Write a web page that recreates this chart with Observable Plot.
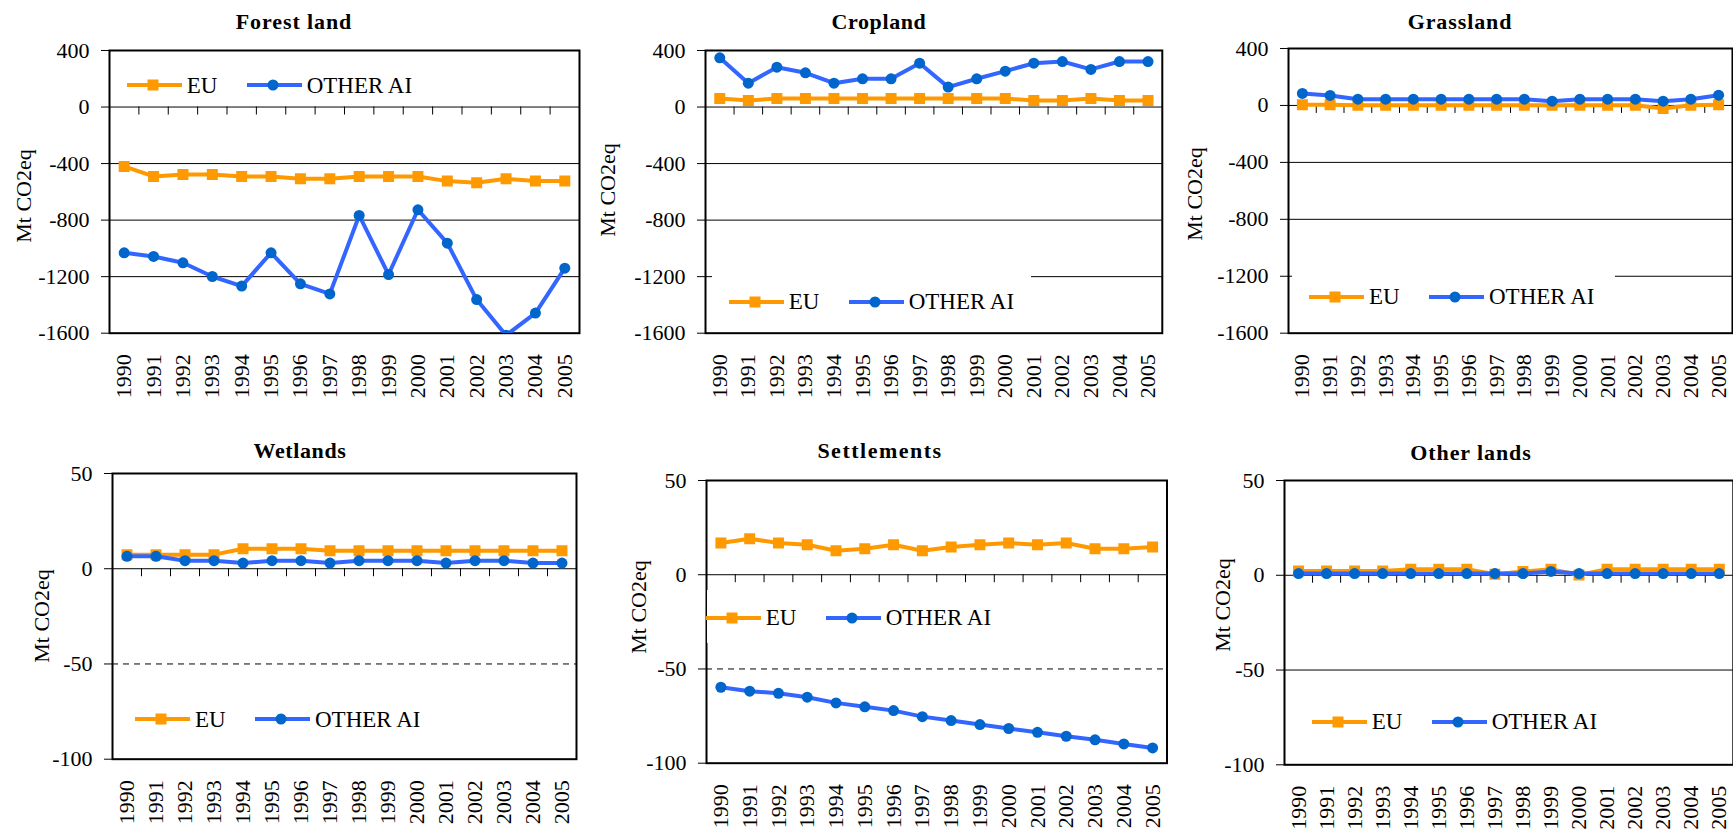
<!DOCTYPE html>
<html>
<head>
<meta charset="utf-8">
<script src="https://cdn.jsdelivr.net/npm/d3@7"></script>
<script src="https://cdn.jsdelivr.net/npm/@observablehq/plot@0.6"></script>
<style>
html, body { margin: 0; padding: 0; background: #fff; overflow: hidden; }
#root { position: relative; width: 1733px; height: 831px; overflow: hidden; background: #fff;
  font-family: "Liberation Serif", "Times New Roman", serif; color: #000; }
.title { position: absolute; font-weight: bold; font-size: 22px; line-height: 22px; white-space: nowrap; transform: translateX(-50%); }
.ylab { position: absolute; font-size: 22px; line-height: 22px; white-space: nowrap; transform: translate(-50%, -50%) rotate(-90deg); }
.legbox { position: absolute; background: #fff; }
.leg { position: absolute; display: flex; align-items: center; height: 30px; font-size: 23px; line-height: 23px; white-space: nowrap; }
.leg svg { display: block; flex: none; }
.leg span { display: block; }
</style>
</head>
<body>
<div id="root"></div>
<script>
// ---------------- data ----------------
const years = [1990, 1991, 1992, 1993, 1994, 1995, 1996, 1997, 1998, 1999, 2000, 2001, 2002, 2003, 2004, 2005];
const seriesNames = ["EU", "OTHER AI"];
const titles = ["Forest land", "Cropland", "Grassland", "Wetlands", "Settlements", "Other lands"];
const yLabel = "Mt CO2eq";

const forestEU = [-420, -491, -477, -477, -491, -491, -508, -508, -491, -491, -491, -524, -536, -508, -524, -524];
const forestOther = [-1031, -1057, -1102, -1199, -1267, -1031, -1251, -1322, -767, -1185, -727, -963, -1362, -1615, -1458, -1140];
const croplandEU = [60, 46, 60, 60, 60, 60, 60, 60, 60, 60, 60, 46, 46, 60, 46, 46];
const croplandOther = [348, 169, 282, 242, 169, 200, 200, 310, 141, 200, 254, 310, 322, 266, 322, 322];
const grasslandEU = [5, 5, 2, 2, 2, 2, 2, 2, 2, 2, 2, 2, 2, -22, 2, 5];
const grasslandOther = [84, 70, 44, 44, 44, 44, 44, 44, 44, 30, 44, 44, 44, 30, 44, 72];
const wetlandsEU = [7.4, 7.4, 7.4, 7.4, 10.5, 10.5, 10.5, 9.5, 9.5, 9.5, 9.5, 9.5, 9.5, 9.5, 9.5, 9.5];
const wetlandsOther = [6.5, 6.5, 4.2, 4.2, 3, 4.2, 4.2, 3, 4.2, 4.2, 4.2, 3, 4.2, 4.2, 3, 3];
const settlementsEU = [16.8, 19.1, 16.8, 15.9, 12.7, 13.8, 15.9, 12.7, 14.7, 15.9, 16.8, 15.9, 16.8, 13.8, 13.8, 14.7];
const settlementsOther = [-59.7, -61.8, -62.9, -65, -68, -70.1, -72.1, -75.3, -77.4, -79.5, -81.6, -83.6, -85.7, -87.6, -89.8, -91.9];
const otherEU = [2.3, 2.3, 2.3, 2.3, 3.2, 3.2, 3.2, 0.5, 2, 3.2, 0.2, 3.2, 3.2, 3.2, 3.2, 3.2];
const otherOther = [0.9, 0.9, 0.9, 0.9, 0.9, 0.9, 0.9, 0.9, 0.9, 2, 0.9, 0.9, 0.9, 0.9, 0.9, 0.9];

const topTicks = [-1600, -1200, -800, -400, 0, 400];
const bottomTicks = [-100, -50, 0, 50];
const topGrid = [-1200, -800, -400];
const bottomGrid = [-50];

// ---------------- styles ----------------
const euColor = "#FF9900";
const otherLine = "#3366FF";
const otherMarker = "#0066CC";
const FONT = '"Liberation Serif", "Times New Roman", serif';

// ---------------- layout ----------------
const panels = [
  {title: titles[0], eu: forestEU, other: forestOther, ticks: topTicks, grid: topGrid, dashed: false,
   frame: [109, 579, 50, 332.7], titleX: 294, titleBase: 29.3, titleLS: 0.9, ylab: [24, 196],
   leg: {x: 126.7, y: 85, box: [116, 64, 314, 41]}},
  {title: titles[1], eu: croplandEU, other: croplandOther, ticks: topTicks, grid: topGrid, dashed: false,
   frame: [705.2, 1162, 50, 332.7], titleX: 879, titleBase: 29.3, titleLS: 0.6, ylab: [608, 190],
   leg: {x: 728.7, y: 301.7, box: [712, 275, 319, 52]}},
  {title: titles[2], eu: grasslandEU, other: grasslandOther, ticks: topTicks, grid: topGrid, dashed: false,
   frame: [1288, 1732, 48, 332.7], titleX: 1460, titleBase: 29.3, titleLS: 0.9, ylab: [1195, 194],
   leg: {x: 1309, y: 296.7, box: [1292, 270, 323, 52]}},
  {title: titles[3], eu: wetlandsEU, other: wetlandsOther, ticks: bottomTicks, grid: bottomGrid, dashed: true,
   frame: [111.5, 575.5, 473.3, 759], titleX: 300, titleBase: 458.3, titleLS: 0.6, ylab: [42, 616],
   leg: {x: 135, y: 719, box: [122, 693, 316, 52]}},
  {title: titles[4], eu: settlementsEU, other: settlementsOther, ticks: bottomTicks, grid: bottomGrid, dashed: true,
   frame: [705.5, 1166, 480, 762.7], titleX: 880, titleBase: 458.3, titleLS: 1.5, ylab: [639, 607],
   leg: {x: 705.7, y: 617.7, box: [706.5, 590, 300, 53]}},
  {title: titles[5], eu: otherEU, other: otherOther, ticks: bottomTicks, grid: bottomGrid, dashed: false,
   frame: [1284, 1732.8, 480, 764.3], titleX: 1471, titleBase: 460, titleLS: 0.9, ylab: [1223, 605],
   leg: {x: 1311.7, y: 721.7, box: [1298, 695, 320, 52]}}
];

const root = document.getElementById("root");

function swatch(kind) {
  const ns = "http://www.w3.org/2000/svg";
  const svg = document.createElementNS(ns, "svg");
  svg.setAttribute("width", 55); svg.setAttribute("height", 16);
  const line = document.createElementNS(ns, "line");
  line.setAttribute("x1", 0); line.setAttribute("x2", 55); line.setAttribute("y1", 8); line.setAttribute("y2", 8);
  line.setAttribute("stroke", kind === 0 ? euColor : otherLine); line.setAttribute("stroke-width", 4);
  svg.appendChild(line);
  if (kind === 0) {
    const r = document.createElementNS(ns, "rect");
    r.setAttribute("x", 26 - 5.5); r.setAttribute("y", 8 - 5.5); r.setAttribute("width", 11); r.setAttribute("height", 11);
    r.setAttribute("fill", euColor); svg.appendChild(r);
  } else {
    const c = document.createElementNS(ns, "circle");
    c.setAttribute("cx", 26); c.setAttribute("cy", 8); c.setAttribute("r", 5.5);
    c.setAttribute("fill", otherMarker); svg.appendChild(c);
  }
  return svg;
}

for (const p of panels) {
  const [fx0, fx1, fy0, fy1] = p.frame;
  const mL = 100, mR = 6, mT = 6, mB = 90;
  const rowsEU = years.map((yr, i) => ({year: yr, value: p.eu[i], series: seriesNames[0]}));
  const rowsOT = years.map((yr, i) => ({year: yr, value: p.other[i], series: seriesNames[1]}));
  const bounds = years.slice(0, -1).map(yr => yr + 0.5);
  const gridOpts = {stroke: "#000", strokeWidth: 1};
  if (p.dashed) gridOpts.strokeDasharray = "6,5";

  const chart = Plot.plot({
    width: (fx1 - fx0) + mL + mR,
    height: (fy1 - fy0) + mT + mB,
    marginLeft: mL, marginRight: mR, marginTop: mT, marginBottom: mB,
    x: {domain: [years[0] - 0.5, years[years.length - 1] + 0.5]},
    y: {domain: [p.ticks[0], p.ticks[p.ticks.length - 1]]},
    style: {fontFamily: FONT, fontSize: "22px", color: "#000", background: "transparent", overflow: "visible", maxWidth: "none"},
    marks: [
      Plot.ruleY(p.grid, gridOpts),
      Plot.ruleY([0], {stroke: "#000", strokeWidth: 1}),
      Plot.ruleX(bounds, {x: d => d, y1: () => 0, y2: () => 0, insetBottom: -8, stroke: "#000", strokeWidth: 1}),
      Plot.frame({stroke: "#000", strokeWidth: 2}),
      Plot.axisY({ticks: p.ticks, tickSize: 8, tickPadding: 12, tickFormat: d => String(d), label: null,
                  fontSize: 22, fontFamily: FONT, stroke: "#000", fill: "#000"}),
      Plot.axisX({ticks: years, tickSize: 0, tickPadding: 21, tickRotate: -90, tickFormat: d => String(d), label: null,
                  fontSize: 22, fontFamily: FONT, fill: "#000"}),
      Plot.line(rowsEU, {x: "year", y: "value", stroke: euColor, strokeWidth: 4, clip: true}),
      Plot.dot(rowsEU, {x: "year", y: "value", symbol: "square", r: 6.2, fill: euColor, clip: true}),
      Plot.line(rowsOT, {x: "year", y: "value", stroke: otherLine, strokeWidth: 4, clip: true}),
      Plot.dot(rowsOT, {x: "year", y: "value", symbol: "circle", r: 5.5, fill: otherMarker, clip: true})
    ]
  });
  chart.style.position = "absolute";
  chart.style.left = (fx0 - mL) + "px";
  chart.style.top = (fy0 - mT) + "px";
  root.appendChild(chart);

  // title
  const t = document.createElement("div");
  t.className = "title";
  t.textContent = p.title;
  t.style.letterSpacing = p.titleLS + "px";
  t.style.left = p.titleX + "px";
  t.style.top = (p.titleBase - 18.4) + "px";
  root.appendChild(t);

  // y label
  const yl = document.createElement("div");
  yl.className = "ylab";
  yl.textContent = yLabel;
  yl.style.left = p.ylab[0] + "px";
  yl.style.top = p.ylab[1] + "px";
  root.appendChild(yl);

  // legend
  const [bx, by, bw, bh] = p.leg.box;
  const box = document.createElement("div");
  box.className = "legbox";
  Object.assign(box.style, {left: bx + "px", top: by + "px", width: bw + "px", height: bh + "px"});
  root.appendChild(box);
  const leg = document.createElement("div");
  leg.className = "leg";
  leg.style.left = p.leg.x + "px";
  leg.style.top = (p.leg.y - 15) + "px";
  seriesNames.forEach((name, k) => {
    leg.appendChild(swatch(k));
    const s = document.createElement("span");
    s.textContent = name;
    s.style.marginLeft = "5px";
    if (k === 0) s.style.width = "60px";
    leg.appendChild(s);
  });
  root.appendChild(leg);
}
</script>
</body>
</html>
